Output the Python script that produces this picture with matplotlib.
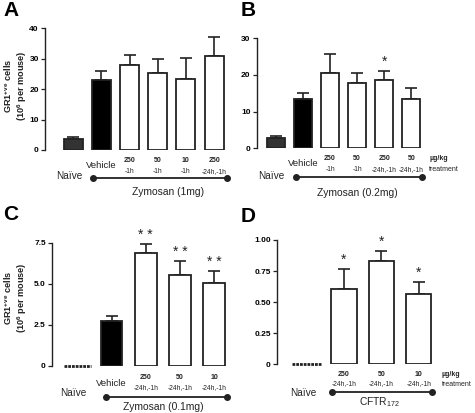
import matplotlib
matplotlib.use("Agg")
import matplotlib.pyplot as plt
from matplotlib.transforms import blended_transform_factory

plt.rcParams['font.family'] = ['Liberation Sans', 'DejaVu Sans']
plt.rcParams['mathtext.fontset'] = 'custom'
plt.rcParams['mathtext.rm'] = 'Liberation Sans'
plt.rcParams['mathtext.bf'] = 'Liberation Sans:bold'
plt.rcParams['mathtext.default'] = 'rm'

# ---------------- data ----------------
A_doses = ['', '', '250', '50', '10', '250']
A_times = ['', '', '-1h', '-1h', '-1h', '-24h,-1h']
A_mean = [3.6, 22.9, 27.9, 25.2, 23.5, 30.9]
A_err = [0.6, 3.1, 3.3, 4.6, 6.6, 6.1]
A_stars = ['', '', '', '', '', '']

B_doses = ['', '', '250', '50', '250', '50']
B_times = ['', '', '-1h', '-1h', '-24h,-1h', '-24h,-1h']
B_mean = [2.9, 13.4, 20.6, 17.9, 18.6, 13.5]
B_err = [0.5, 1.8, 5.1, 2.7, 2.6, 3.0]
B_stars = ['', '', '', '', '*', '']

C_doses = ['', '', '250', '50', '10']
C_times = ['', '', '-24h,-1h', '-24h,-1h', '-24h,-1h']
C_mean = [0.0, 2.70, 6.85, 5.53, 5.06]
C_err = [0.0, 0.33, 0.55, 0.85, 0.71]
C_stars = ['', '', '* *', '* *', '* *']

D_doses = ['', '250', '50', '10']
D_times = ['', '-24h,-1h', '-24h,-1h', '-24h,-1h']
D_mean = [0.0, 0.606, 0.831, 0.568]
D_err = [0.0, 0.158, 0.083, 0.097]
D_stars = ['', '*', '*', '*']

A_yticks = [0, 10, 20, 30, 40]
B_yticks = [0, 10, 20, 30]
C_yticks = [0, 2.5, 5.0, 7.5]
C_yticklabels = ['0', '2.5', '5.0', '7.5']
D_yticks = [0, 0.25, 0.50, 0.75, 1.00]
D_yticklabels = ['0', '0.25', '0.50', '0.75', '1.00']

W, H = 475, 413
fig = plt.figure(figsize=(W / 100, H / 100), dpi=100)
fig.patch.set_facecolor('white')


def fy(px):
    return 1 - px / H


def make_axes(left, top, right, bottom):
    return fig.add_axes([left / W, 1 - bottom / H, (right - left) / W, (bottom - top) / H])


def style(ax, ylim, ticks, labels=None):
    ax.set_ylim(*ylim)
    ax.set_yticks(ticks)
    if labels is not None:
        ax.set_yticklabels(labels)
    for s in ['top', 'right', 'bottom']:
        ax.spines[s].set_visible(False)
    ax.spines['left'].set_linewidth(1.0)
    ax.spines['left'].set_color('#222222')
    ax.set_xticks([])
    ax.tick_params(axis='y', length=3, width=0.9, color='#222222', pad=1.5,
                   labelsize=6)
    for t in ax.get_yticklabels():
        t.set_fontweight('bold')
    ax.patch.set_alpha(0)


def draw_bars(ax, means, errs, stars, kinds, width):
    for i, (m, e, s, k) in enumerate(zip(means, errs, stars, kinds)):
        if k == 'dash':
            ax.plot([i - 0.39, i + 0.39], [0, 0], color='#222222', lw=2.0,
                    ls=(0, (1.0, 0.35)), clip_on=False, solid_capstyle='butt')
            continue
        fc = {'naive': '#333333', 'veh': 'black', 'open': 'white'}[k]
        ax.bar(i, m, width=width, color=fc, edgecolor='#222222', linewidth=1.3, zorder=2)
        if e > 0:
            ax.errorbar(i, m, yerr=[[0], [e]], fmt='none', ecolor='#222222',
                        elinewidth=1.2, capsize=4.2, capthick=1.2, zorder=1)
        if s:
            ax.annotate(s, xy=(i, m + e), xytext=(0, 1.5), textcoords='offset points',
                        ha='center', va='bottom', fontsize=10, color='#222222')


def below(ax, doses, times, y_dose, y_time, veh_idx, veh_y, naive_x, naive_y,
          line_y, line_x0, line_x1, grp_text, grp_x, grp_y, unit=None):
    tr = blended_transform_factory(ax.transData, fig.transFigure)
    for i, (d, t) in enumerate(zip(doses, times)):
        if d:
            ax.text(i, fy(y_dose), d, transform=tr, ha='center', va='center',
                    fontsize=5, fontweight='bold', color='#222222')
        if t:
            ax.text(i, fy(y_time), t, transform=tr, ha='center', va='center',
                    fontsize=4.8, color='#222222')
    if veh_idx is not None:
        ax.text(veh_idx, fy(veh_y), 'Vehicle', transform=tr, ha='center', va='center',
                fontsize=6.8, color='#222222')
    ax.text(naive_x, fy(naive_y), 'Naïve', transform=tr, ha='center', va='center',
            fontsize=7.2, color='#222222')
    ax.plot([line_x0, line_x1], [fy(line_y), fy(line_y)], transform=tr, color='#222222',
            lw=1.3, marker='o', markersize=4, clip_on=False)
    ax.text(grp_x, fy(grp_y), grp_text, transform=tr, ha='center', va='center',
            fontsize=7.4, color='#222222')
    if unit is not None:
        ux, uy1, uy2 = unit
        fig.text(ux / W, fy(uy1), 'µg/kg', ha='left', va='center', fontsize=5,
                 fontweight='bold', color='#222222')
        fig.text(ux / W, fy(uy2), 'treatment', ha='left', va='center', fontsize=5,
                 color='#222222')


ylab = 'GR1$^{\\mathbf{+ve}}$ cells\n(10$^{\\mathbf{6}}$ per mouse)'

# ---------------- Panel A ----------------
axA = make_axes(45, 28.3, 231, 150)
axA.set_xlim(-1.0, 5.6)
draw_bars(axA, A_mean, A_err, A_stars, ['naive', 'veh', 'open', 'open', 'open', 'open'], 0.67)
style(axA, (0, 40), A_yticks)
below(axA, A_doses, A_times, 160, 171.7, 1, 165.7, -0.15, 176, 178.3, 0.72, 5.46,
      'Zymosan (1mg)', 3.36, 191.7)
fig.text(15.5 / W, fy(86), ylab, rotation=90, ha='center', va='center', fontsize=6.6,
         fontweight='bold', multialignment='center', linespacing=1.1, color='#222222')
fig.text(3 / W, fy(11), 'A', fontsize=15, fontweight='bold', ha='left', va='center')

# ---------------- Panel B ----------------
axB = make_axes(256.7, 38.3, 427.5, 148.3)
axB.set_xlim(-0.71, 5.6)
draw_bars(axB, B_mean, B_err, B_stars, ['naive', 'veh', 'open', 'open', 'open', 'open'], 0.68)
style(axB, (0, 30), B_yticks)
below(axB, B_doses, B_times, 159, 169.3, 1, 163.3, -0.17, 176, 176.7, 0.76, 5.38,
      'Zymosan (0.2mg)', 3.01, 192.7, unit=(429.3, 159, 169.3))
fig.text(241 / W, fy(11), 'B', fontsize=15, fontweight='bold', ha='left', va='center')

# ---------------- Panel C ----------------
axC = make_axes(52, 242.7, 231.2, 365.7)
axC.set_xlim(-0.74, 4.5)
draw_bars(axC, C_mean, C_err, C_stars, ['dash', 'veh', 'open', 'open', 'open'], 0.64)
style(axC, (0, 7.5), C_yticks, C_yticklabels)
below(axC, C_doses, C_times, 377.3, 387.7, 1, 384, -0.13, 393, 397.3, 0.83, 4.38,
      'Zymosan (0.1mg)', 2.52, 406.7)
fig.text(15.5 / W, fy(298), ylab, rotation=90, ha='center', va='center', fontsize=6.6,
         fontweight='bold', multialignment='center', linespacing=1.1, color='#222222')
fig.text(3 / W, fy(214), 'C', fontsize=15, fontweight='bold', ha='left', va='center')

# ---------------- Panel D ----------------
axD = make_axes(277, 240, 441.2, 364.3)
axD.set_xlim(-0.79, 3.6)
draw_bars(axD, D_mean, D_err, D_stars, ['dash', 'open', 'open', 'open'], 0.68)
style(axD, (0, 1.0), D_yticks, D_yticklabels)
below(axD, D_doses, D_times, 375, 384, None, 0, -0.08, 392.7, 392.3, 0.69, 3.35,
      'CFTR$_{172}$', 1.94, 402.3, unit=(442, 374.3, 384))
fig.text(241 / W, fy(216), 'D', fontsize=15, fontweight='bold', ha='left', va='center')

fig.savefig('out.png', dpi=100, facecolor='white')
